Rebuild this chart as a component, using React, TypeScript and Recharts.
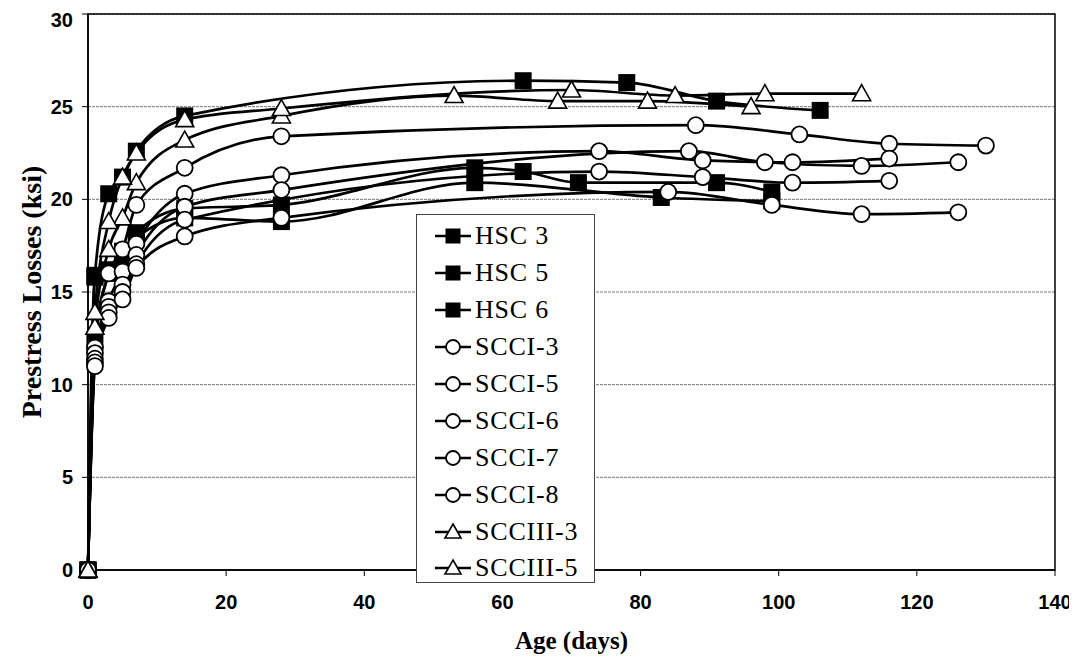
import React from "react";
import { Legend, Line, LineChart, ReferenceArea, CartesianGrid, XAxis, YAxis } from "recharts";

// Age (days) and prestress loss (ksi) per specimen
const hsc3Days = [0, 1, 3, 5, 7, 14, 63, 78, 91, 106];
const hsc3Loss = [0, 15.9, 20.3, 21.2, 22.6, 24.5, 26.4, 26.3, 25.3, 24.8];

const hsc5Days = [0, 1, 3, 5, 7, 14, 28, 56, 63, 71, 91, 99];
const hsc5Loss = [0, 12.4, 16.0, 17.2, 18.2, 19.5, 19.7, 21.7, 21.5, 20.9, 20.9, 20.4];

const hsc6Days = [0, 1, 3, 5, 7, 14, 28, 56, 83, 99];
const hsc6Loss = [0, 15.8, 16.2, 16.8, 17.9, 19.0, 18.8, 20.9, 20.1, 19.9];

const scci3Days = [0, 1, 3, 5, 7, 14, 28, 88, 103, 116, 130];
const scci3Loss = [0, 12.0, 16.0, 17.3, 19.7, 21.7, 23.4, 24.0, 23.5, 23.0, 22.9];

const scci5Days = [0, 1, 3, 5, 7, 14, 28, 74, 89, 102, 116];
const scci5Loss = [0, 11.7, 14.5, 16.1, 17.6, 20.3, 21.3, 22.6, 22.1, 22.0, 22.2];

const scci6Days = [0, 1, 3, 5, 7, 14, 28, 87, 98, 112, 126];
const scci6Loss = [0, 11.4, 14.2, 15.4, 17.0, 19.6, 20.5, 22.6, 22.0, 21.8, 22.0];

const scci7Days = [0, 1, 3, 5, 7, 14, 74, 89, 102, 116];
const scci7Loss = [0, 11.2, 13.9, 15.0, 16.5, 18.9, 21.5, 21.2, 20.9, 21.0];

const scci8Days = [0, 1, 3, 5, 7, 14, 28, 84, 99, 112, 126];
const scci8Loss = [0, 11.0, 13.6, 14.6, 16.3, 18.0, 19.0, 20.4, 19.7, 19.2, 19.3];

const scciii3Days = [0, 1, 3, 5, 7, 14, 28, 53, 68, 81, 96];
const scciii3Loss = [0, 13.1, 17.3, 19.0, 20.9, 23.2, 24.5, 25.6, 25.3, 25.3, 25.0];

const scciii5Days = [0, 1, 3, 5, 7, 14, 28, 70, 85, 98, 112];
const scciii5Loss = [0, 13.9, 18.8, 21.2, 22.5, 24.3, 24.9, 25.9, 25.6, 25.7, 25.7];

const xTicks = [0, 20, 40, 60, 80, 100, 120, 140];
const yTicks = [0, 5, 10, 15, 20, 25, 30];

type Marker = "square" | "circle" | "triangle";

const toPoints = (days: number[], loss: number[]) =>
  days.map((d, i) => ({ age: d, loss: loss[i] }));

const series: { name: string; marker: Marker; data: { age: number; loss: number }[] }[] = [
  { name: "HSC 3", marker: "square", data: toPoints(hsc3Days, hsc3Loss) },
  { name: "HSC 5", marker: "square", data: toPoints(hsc5Days, hsc5Loss) },
  { name: "HSC 6", marker: "square", data: toPoints(hsc6Days, hsc6Loss) },
  { name: "SCCI-3", marker: "circle", data: toPoints(scci3Days, scci3Loss) },
  { name: "SCCI-5", marker: "circle", data: toPoints(scci5Days, scci5Loss) },
  { name: "SCCI-6", marker: "circle", data: toPoints(scci6Days, scci6Loss) },
  { name: "SCCI-7", marker: "circle", data: toPoints(scci7Days, scci7Loss) },
  { name: "SCCI-8", marker: "circle", data: toPoints(scci8Days, scci8Loss) },
  { name: "SCCIII-3", marker: "triangle", data: toPoints(scciii3Days, scciii3Loss) },
  { name: "SCCIII-5", marker: "triangle", data: toPoints(scciii5Days, scciii5Loss) },
];

function MarkerShape({ kind, cx, cy, size }: { kind: Marker; cx: number; cy: number; size: number }) {
  const h = size / 2;
  if (kind === "square") {
    return <rect x={cx - h} y={cy - h} width={size} height={size} fill="#000" />;
  }
  if (kind === "circle") {
    return <circle cx={cx} cy={cy} r={h} fill="#fff" stroke="#000" strokeWidth={1.8} />;
  }
  return (
    <path
      d={`M${cx},${cy - h - 1} L${cx + h + 1},${cy + h - 1} L${cx - h - 1},${cy + h - 1} Z`}
      fill="#fff"
      stroke="#000"
      strokeWidth={1.6}
      strokeLinejoin="miter"
    />
  );
}

const makeDot = (kind: Marker) => (props: any) => {
  const { cx, cy, index } = props;
  if (cx == null || cy == null) return <g key={index} />;
  return <MarkerShape key={index} kind={kind} cx={cx} cy={cy} size={kind === "square" ? 17 : 16} />;
};

function LegendBox() {
  return (
    <div
      style={{
        width: 179,
        height: 369,
        border: "1px solid #444",
        background: "#fff",
        boxSizing: "border-box",
        paddingTop: 3,
      }}
    >
      {series.map((s) => (
        <div key={s.name} style={{ display: "flex", alignItems: "center", height: 36.9 }}>
          <svg width={58} height={30} style={{ flex: "none" }}>
            <line x1={18} x2={54} y1={15} y2={15} stroke="#000" strokeWidth={2.5} />
            <MarkerShape kind={s.marker} cx={36} cy={15} size={s.marker === "square" ? 15 : 14} />
          </svg>
          <span
            style={{
              fontFamily: '"Liberation Serif", "Times New Roman", serif',
              fontSize: 26,
              letterSpacing: 0.8,
              color: "#000",
              whiteSpace: "nowrap",
            }}
          >
            {s.name}
          </span>
        </div>
      ))}
    </div>
  );
}

const tickStyle = {
  fill: "#000",
  fontSize: 20,
  fontWeight: 700,
  fontFamily: '"Liberation Sans", Arial, sans-serif',
};

const titleStyle = {
  fill: "#000",
  fontSize: 25,
  fontWeight: 700,
  fontFamily: '"Liberation Serif", "Times New Roman", serif',
};

export default function App() {
  return (
    <LineChart width={1069} height={652} margin={{ top: 6, right: 22, left: 20, bottom: 30 }}>
      <CartesianGrid horizontal vertical={false} stroke="#777" strokeDasharray="3 1" />
      <XAxis
        type="number"
        dataKey="age"
        domain={[0, 140]}
        ticks={xTicks}
        height={60}
        axisLine={{ stroke: "#000", strokeWidth: 1.5 }}
        tickLine={{ stroke: "#000" }}
        tickSize={6}
        tickMargin={19}
        tick={tickStyle}
        label={{ value: "Age (days)", position: "center", dy: 40, style: titleStyle }}
      />
      <YAxis
        type="number"
        domain={[0, 30]}
        ticks={yTicks}
        width={60}
        axisLine={{ stroke: "#000", strokeWidth: 1.5 }}
        tickLine={{ stroke: "#000" }}
        tickSize={6}
        tickMargin={9}
        tick={tickStyle}
        label={{
          value: "Prestress Losses (ksi)",
          angle: -90,
          position: "center",
          dx: -27,
          style: { ...titleStyle, fontSize: 28 },
        }}
      />
      <ReferenceArea x1={0} x2={140} y1={0} y2={30} fill="none" stroke="#000" strokeWidth={1.5} />
      {series.map((s) => (
        <Line
          key={s.name}
          name={s.name}
          data={s.data}
          dataKey="loss"
          type="monotone"
          stroke="#000"
          strokeWidth={2.7}
          dot={makeDot(s.marker)}
          activeDot={false}
          isAnimationActive={false}
        />
      ))}
      <Legend
        layout="vertical"
        align="center"
        verticalAlign="middle"
        wrapperStyle={{ left: 408, top: 206, width: 181 }}
        content={() => <LegendBox />}
      />
    </LineChart>
  );
}
